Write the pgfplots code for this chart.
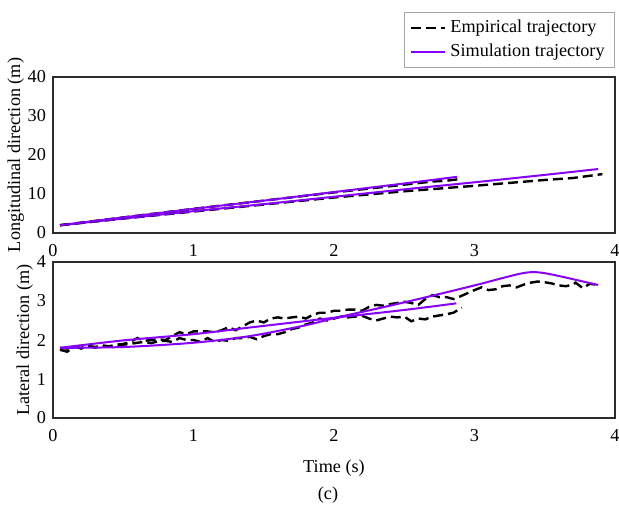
\documentclass[border=0pt]{standalone}
\usepackage{pgfplots}
\pgfplotsset{compat=1.18}
\usepackage{fontspec}
\setmainfont{Liberation Serif}
\definecolor{simc}{RGB}{135,0,255}
\definecolor{axc}{RGB}{45,45,45}
\newcommand{\ff}{\fontsize{9.1}{10.8}\selectfont}
\pgfplotsset{
 myax/.style={
   width=281pt, height=78pt, scale only axis,
   xmin=0, xmax=4, xtick={0,1,2,3,4},
   axis line style={axc, line width=1pt},
   major tick length=0pt,
   /pgf/number format/assume math mode=true,
   ticklabel style={font=\ff},
   label style={font=\ff},
   xticklabel style={yshift=-2pt},
   ylabel shift=-5pt,
 },
 emp/.style={black, line width=1.2pt, dash pattern=on 5pt off 2.5pt},
 sim/.style={simc, line width=1pt},
}
\begin{document}
\begin{tikzpicture}
% ---------------- bottom panel ----------------
\begin{axis}[myax, name=bot, at={(0,0)}, anchor=south west,
  ymin=0, ymax=4, ytick={0,1,2,3,4},
  ylabel={Lateral direction (m)},
  xlabel={Time (s)},
  xlabel style={at={(axis description cs:0.5,0)}, anchor=base, yshift=-27pt},
]
% long empirical
\addplot[emp] coordinates {
(0.05,1.75)(0.1,1.70)(0.15,1.82)(0.2,1.80)(0.25,1.85)(0.3,1.82)(0.35,1.86)(0.4,1.84)
(0.45,1.88)(0.5,1.90)(0.55,1.95)(0.6,2.05)(0.65,1.98)(0.7,2.00)(0.75,2.02)(0.8,2.00)
(0.85,2.10)(0.9,2.20)(0.95,2.15)(1.0,2.22)(1.05,2.22)(1.1,2.22)(1.15,2.20)(1.2,2.25)
(1.25,2.33)(1.3,2.25)(1.35,2.35)(1.4,2.45)(1.45,2.50)(1.5,2.45)(1.55,2.55)(1.6,2.58)
(1.65,2.55)(1.7,2.58)(1.75,2.60)(1.8,2.55)(1.85,2.65)(1.9,2.70)(1.95,2.70)(2.0,2.75)
(2.05,2.75)(2.1,2.78)(2.15,2.78)(2.2,2.75)(2.25,2.85)(2.3,2.90)(2.35,2.88)(2.4,2.92)
(2.45,2.95)(2.5,2.98)(2.55,2.95)(2.6,2.90)(2.65,3.05)(2.7,3.15)(2.75,3.10)(2.8,3.10)
(2.85,3.05)(2.9,3.12)(2.95,3.20)(3.0,3.28)(3.05,3.35)(3.1,3.28)(3.15,3.30)(3.2,3.38)
(3.25,3.40)(3.3,3.35)(3.35,3.42)(3.4,3.47)(3.45,3.50)(3.5,3.48)(3.55,3.45)(3.6,3.40)
(3.65,3.38)(3.7,3.42)(3.72,3.47)(3.77,3.33)(3.82,3.44)(3.89,3.41)
};
% short empirical
\addplot[emp] coordinates {
(0.05,1.80)(0.1,1.78)(0.15,1.85)(0.2,1.78)(0.25,1.85)(0.3,1.80)(0.35,1.85)(0.4,1.83)
(0.45,1.82)(0.5,1.88)(0.55,1.90)(0.6,1.93)(0.65,1.95)(0.7,1.92)(0.75,1.97)(0.8,1.98)
(0.85,1.95)(0.9,2.05)(0.95,2.00)(1.0,2.00)(1.05,1.95)(1.1,2.05)(1.15,1.95)(1.2,2.00)
(1.25,1.98)(1.3,2.05)(1.35,2.05)(1.4,2.08)(1.45,2.02)(1.5,2.10)(1.55,2.15)(1.6,2.15)
(1.65,2.20)(1.7,2.28)(1.75,2.32)(1.8,2.40)(1.85,2.45)(1.9,2.55)(1.95,2.50)(2.0,2.55)
(2.05,2.60)(2.1,2.58)(2.15,2.60)(2.2,2.62)(2.25,2.55)(2.3,2.50)(2.35,2.55)(2.4,2.60)
(2.45,2.58)(2.5,2.60)(2.55,2.48)(2.6,2.55)(2.65,2.53)(2.7,2.60)(2.75,2.63)(2.8,2.66)
(2.85,2.70)(2.91,2.83)
};
% long simulation
\addplot[sim, smooth] coordinates {
(0.05,1.80)(0.5,1.82)(1.0,1.93)(1.4,2.10)(1.8,2.38)(2.0,2.56)(2.3,2.80)(2.6,3.05)
(3.0,3.40)(3.3,3.68)(3.42,3.74)(3.55,3.68)(3.88,3.41)
};
% short simulation
\addplot[sim, smooth] coordinates {
(0.05,1.80)(0.5,1.99)(1.0,2.15)(1.4,2.32)(2.0,2.57)(2.5,2.77)(2.87,2.94)
};
\end{axis}
% ---------------- top panel ----------------
\begin{axis}[myax, name=top, at={(0,92.5pt)}, anchor=south west,
  ymin=0, ymax=40, ytick={0,10,20,30,40},
  ylabel={Longitudinal direction (m)},
  legend cell align=left,
  legend style={at={(1,1)}, anchor=south east, yshift=4.5pt,
    draw=gray!70, line width=0.4pt, font=\ff, row sep=0pt},
]
\addplot[emp] coordinates {
(0.05,2.0)(0.5,3.7)(1,5.5)(1.5,7.3)(2,9.1)(2.5,10.7)(3,12.1)(3.5,13.6)(3.7,14.1)(3.91,15.1)
};
\addlegendentry{Empirical trajectory}
\addplot[sim] coordinates {
(0.05,2.0)(0.5,3.7)(1,5.6)(1.5,7.4)(2,9.3)(2.5,11.2)(3,13.0)(3.5,14.9)(3.88,16.4)
};
\addlegendentry{Simulation trajectory}
\addplot[emp, forget plot] coordinates {
(0.05,2.0)(0.5,4.0)(1,6.2)(1.5,8.3)(2,10.4)(2.3,11.6)(2.5,12.4)(2.7,13.2)(2.8,13.4)(2.91,13.9)
};
\addplot[sim, forget plot] coordinates {
(0.05,2.0)(0.5,4.0)(1,6.2)(1.5,8.3)(2,10.5)(2.5,12.7)(2.875,14.4)
};
\end{axis}
\node[font=\ff, anchor=base] at ([xshift=-3pt, yshift=-40.5pt]bot.south) {(c)};
\pgfresetboundingbox
\path[use as bounding box] (-26.5pt,-43.5pt) rectangle (283pt,209pt);
\end{tikzpicture}
\end{document}
